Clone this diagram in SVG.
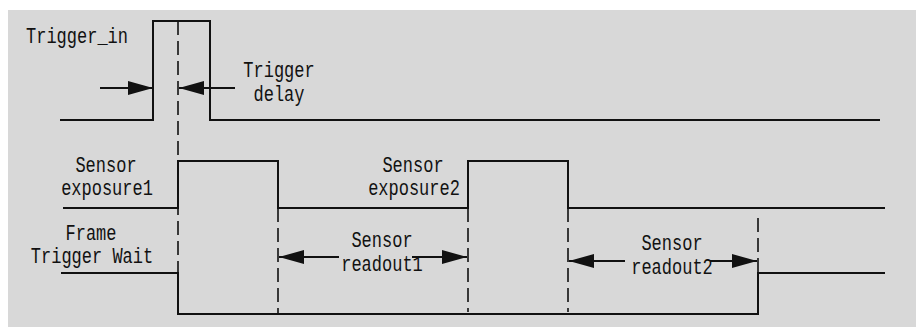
<svg xmlns="http://www.w3.org/2000/svg" width="916" height="327" viewBox="0 0 916 327">
<style>
.bg{fill:#d8d8d8}
.sig{fill:none;stroke:#111;stroke-width:2}
.dash{fill:none;stroke:#111;stroke-width:1.6;stroke-dasharray:14 6}
.arr{fill:none;stroke:#111;stroke-width:2;marker-end:url(#ah)}
text{font-family:"Liberation Mono","DejaVu Sans Mono",monospace;font-size:17px;fill:#111;text-anchor:middle}
</style>
<defs>
<marker id="ah" viewBox="0 0 25 14" refX="25" refY="7" markerWidth="25" markerHeight="14" markerUnits="userSpaceOnUse" orient="auto">
<path d="M0,0 L25,7 L0,14 z" fill="#111"/>
</marker>
</defs>
<rect class="bg" x="8" y="10" width="908" height="317"/>
<g id="trigger_in">
<path class="sig" d="M60,120 H153 V21 H210 V120 H880"/>
<text transform="translate(77 43) scale(1 1.3)">Trigger_in</text>
</g>
<g id="sensor_exposure">
<path class="sig" d="M63,208 H178 V161 H278 V208 H468 V161 H568 V208 H885"/>
<text transform="translate(106 172) scale(1 1.3)">Sensor</text>
<text transform="translate(107 195) scale(1 1.3)">exposure1</text>
<text transform="translate(413 172) scale(1 1.3)">Sensor</text>
<text transform="translate(414 195) scale(1 1.3)">exposure2</text>
</g>
<g id="frame_trigger_wait">
<path class="sig" d="M61,273 H178 V314 H758 V273 H885"/>
<text transform="translate(91 240) scale(1 1.3)">Frame</text>
<text transform="translate(92 263) scale(1 1.3)">Trigger Wait</text>
</g>
<g id="trigger_delay">
<text transform="translate(279 77) scale(1 1.3)">Trigger</text>
<text transform="translate(279 101) scale(1 1.3)">delay</text>
</g>
<g id="readout1">
<text transform="translate(382 247) scale(1 1.3)">Sensor</text>
<text transform="translate(382 271) scale(1 1.3)">readout1</text>
</g>
<g id="readout2">
<text transform="translate(672 250) scale(1 1.3)">Sensor</text>
<text transform="translate(672 274) scale(1 1.3)">readout2</text>
</g>
<g id="connectors">
<path class="dash" d="M178,21 V314"/>
<path class="dash" d="M278,208 V314"/>
<path class="dash" d="M468,208 V312"/>
<path class="dash" d="M568,208 V312"/>
<path class="dash" d="M758,218 V273"/>
<path class="arr" d="M100,88 H153"/>
<path class="arr" d="M235,88 H179"/>
<path class="arr" d="M339,257 H279"/>
<path class="arr" d="M412,257 H467"/>
<path class="arr" d="M625,261 H569"/>
<path class="arr" d="M710,261 H757"/>
</g>
</svg>
